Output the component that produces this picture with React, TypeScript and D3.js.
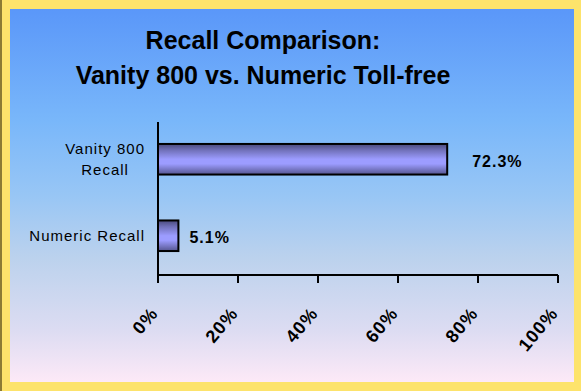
import React, { useEffect, useRef } from "react";
import * as d3 from "d3";

const titleLines = ["Recall Comparison:", "Vanity 800 vs. Numeric Toll-free"];
const categories = ["Vanity 800\nRecall", "Numeric Recall"];
const recallValues = [72.3, 5.1];
const xTicks = [0, 20, 40, 60, 80, 100];

const W = 581;
const H = 391;
const FONT = "'Liberation Sans', Arial, Helvetica, sans-serif";

export default function App() {
  const ref = useRef<SVGSVGElement | null>(null);

  useEffect(() => {
    const svg = d3.select(ref.current);
    svg.selectAll("*").remove();

    const defs = svg.append("defs");
    const bg = defs
      .append("linearGradient")
      .attr("id", "bgGrad")
      .attr("x1", 0)
      .attr("y1", 0)
      .attr("x2", 0)
      .attr("y2", 1);
    [
      [0, "#5a97f9"],
      [0.3, "#79b7fa"],
      [0.5, "#98c6f5"],
      [0.67, "#bcd2ed"],
      [0.86, "#dcdcf2"],
      [1, "#fde9f7"],
    ].forEach(([o, c]) => bg.append("stop").attr("offset", o as number).attr("stop-color", c as string));

    const barGrad = defs
      .append("linearGradient")
      .attr("id", "barGrad")
      .attr("x1", 0)
      .attr("y1", 0)
      .attr("x2", 0)
      .attr("y2", 1);
    [
      [0, "#4a4a7c"],
      [0.2, "#7070b8"],
      [0.5, "#9c9cff"],
      [0.65, "#9c9cff"],
      [1, "#55558f"],
    ].forEach(([o, c]) => barGrad.append("stop").attr("offset", o as number).attr("stop-color", c as string));

    // frame
    svg.append("rect").attr("x", 0).attr("y", 0).attr("width", W).attr("height", H).attr("fill", "#fde36b");
    svg.append("rect").attr("x", 0).attr("y", 0).attr("width", 2).attr("height", H).attr("fill", "#8c7b34");
    svg.append("rect").attr("x", 10).attr("y", 9).attr("width", 564).attr("height", 373).attr("fill", "url(#bgGrad)");

    // title
    const title = svg
      .append("text")
      .attr("x", 263)
      .attr("text-anchor", "middle")
      .attr("font-family", FONT)
      .attr("font-weight", "bold")
      .attr("font-size", 25)
      .attr("fill", "#000");
    titleLines.forEach((t, i) => {
      title.append("tspan").attr("x", 263).attr("y", 49 + i * 34.5).text(t);
    });

    const x = d3.scaleLinear().domain([0, 100]).range([158, 558]);
    const y = d3.scaleBand<string>().domain(categories).range([121, 274]).paddingInner(0.6).paddingOuter(0.3);

    // bars
    svg
      .append("g")
      .selectAll("rect")
      .data(recallValues)
      .join("rect")
      .attr("x", x(0))
      .attr("y", (_, i) => y(categories[i])!)
      .attr("width", (d) => x(d) - x(0))
      .attr("height", y.bandwidth())
      .attr("fill", "url(#barGrad)")
      .attr("stroke", "#000")
      .attr("stroke-width", 2);

    // value labels
    const labelGap = [25, 11];
    svg
      .append("g")
      .selectAll("text")
      .data(recallValues)
      .join("text")
      .attr("x", (d, i) => x(d) + labelGap[i])
      .attr("y", (_, i) => y(categories[i])! + y.bandwidth() / 2 + 2)
      .attr("dy", "0.35em")
      .attr("font-family", FONT)
      .attr("font-weight", "bold")
      .attr("font-size", 16)
      .attr("letter-spacing", 1)
      .attr("fill", "#000")
      .text((d) => `${d.toFixed(1)}%`);

    // y axis line
    svg
      .append("line")
      .attr("x1", x(0))
      .attr("x2", x(0))
      .attr("y1", 122)
      .attr("y2", 275)
      .attr("stroke", "#000")
      .attr("stroke-width", 2);

    // category labels
    const catG = svg.append("g");
    categories.forEach((c) => {
      const lines = c.split("\n");
      const cy = y(c)! + y.bandwidth() / 2;
      const lh = 21;
      const g = catG.append("g");
      const texts = lines.map((l, i) =>
        g
          .append("text")
          .attr("y", cy + (i - (lines.length - 1) / 2) * lh)
          .attr("dy", "0.35em")
          .attr("text-anchor", "middle")
          .attr("font-family", FONT)
          .attr("font-size", 15)
          .attr("letter-spacing", 1)
          .attr("fill", "#000")
          .text(l)
      );
      const widths = texts.map((t) => (t.node() as SVGTextElement).getComputedTextLength());
      const maxW = Math.max(...widths);
      const cx = 145 - maxW / 2;
      texts.forEach((t) => t.attr("x", cx));
    });

    // x axis
    const axisY = 275;
    svg
      .append("line")
      .attr("x1", x(0))
      .attr("x2", x(100))
      .attr("y1", axisY)
      .attr("y2", axisY)
      .attr("stroke", "#000")
      .attr("stroke-width", 2);
    svg
      .append("g")
      .selectAll("line")
      .data(xTicks)
      .join("line")
      .attr("x1", (d) => x(d))
      .attr("x2", (d) => x(d))
      .attr("y1", axisY)
      .attr("y2", axisY + 8)
      .attr("stroke", "#000")
      .attr("stroke-width", 2);
    svg
      .append("g")
      .selectAll("text")
      .data(xTicks)
      .join("text")
      .attr("transform", (d) => `translate(${x(d) - 4},${axisY + 35}) rotate(-50)`)
      .attr("text-anchor", "end")
      .attr("dy", "0.35em")
      .attr("font-family", FONT)
      .attr("font-weight", "bold")
      .attr("font-size", 18)
      .attr("letter-spacing", 1)
      .attr("fill", "#000")
      .text((d) => `${d}%`);
  }, []);

  return (
    <svg
      ref={ref}
      width={W}
      height={H}
      style={{ position: "fixed", top: 0, left: 0, display: "block" }}
    />
  );
}
